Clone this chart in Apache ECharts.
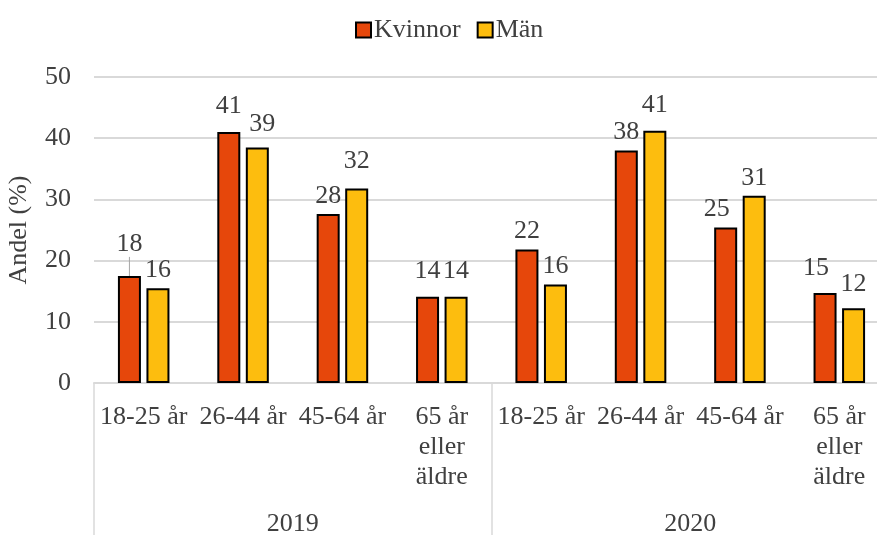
<!DOCTYPE html>
<html>
<head>
<meta charset="utf-8">
<script src="https://cdn.jsdelivr.net/npm/echarts@6/dist/echarts.min.js"></script>
<style>
  html, body { margin: 0; padding: 0; background: #fff; }
  #chart { width: 877px; height: 535px; }
</style>
</head>
<body>
<div id="chart"></div>
<script>
const ageGroups = ["18-25 år", "26-44 år", "45-64 år", "65 år eller äldre",
                   "18-25 år", "26-44 år", "45-64 år", "65 år eller äldre"];
const years = ["2019", "2020"];
const kvinnor = [17.5, 41.0, 27.6, 14.1, 21.8, 38.0, 25.4, 14.7];
const man = [15.5, 38.5, 31.8, 14.1, 16.1, 41.2, 30.6, 12.2];
const yTicks = [0, 10, 20, 30, 40, 50];

// label nudges, as in the original (manually moved labels)
const kvinnorLabelShift = [[0, -14], [0, -8], [0, 0], [0, -8], [0, 0], [0, 0], [-9, 0], [-9, -7]];
const manLabelShift = [[0, 0], [5, -5], [0, -9], [0, -8], [0, 0], [0, -8], [0, 0], [0, -6]];

const font = "Liberation Serif";
const textColor = "#404040";
const gridColor = "#d9d9d9";
const fs = 26;

const chart = echarts.init(document.getElementById("chart"));

const barLabel = {
  show: true,
  position: "top",
  distance: 5,
  fontFamily: font,
  fontSize: fs,
  color: textColor,
  formatter: (p) => Math.round(p.value)
};

function shiftLayout(shifts) {
  return (p) => ({ dx: shifts[p.dataIndex][0], dy: shifts[p.dataIndex][1] });
}

chart.setOption({
  backgroundColor: "#fff",
  animation: false,
  textStyle: { fontFamily: font },
  legend: {
    top: 12,
    left: 350,
    itemWidth: 15,
    itemHeight: 15,
    itemGap: 16,
    icon: "rect",
    textStyle: { fontFamily: font, fontSize: fs, color: textColor, padding: [0, 0, 0, -2] },
    data: ["Kvinnor", "Män"]
  },
  grid: {
    left: 94,
    top: 77,
    right: -12,
    bottom: 152,
    outerBoundsMode: "none",
    containLabel: false
  },
  xAxis: [
    {
      type: "category",
      data: ageGroups,
      axisLine: { show: true, lineStyle: { color: gridColor, width: 2 } },
      axisTick: { show: false },
      axisLabel: {
        interval: 0,
        margin: 19,
        fontFamily: font,
        fontSize: fs,
        lineHeight: 30,
        color: textColor,
        formatter: (v) => v.replace(" eller ", "\neller\n")
      }
    },
    {
      type: "category",
      data: years,
      position: "bottom",
      axisLine: { show: false },
      axisTick: { show: true, length: 160, lineStyle: { color: gridColor, width: 1.5 } },
      axisLabel: {
        margin: 128,
        fontFamily: font,
        fontSize: fs,
        color: textColor
      }
    }
  ],
  yAxis: {
    type: "value",
    min: yTicks[0],
    max: yTicks[yTicks.length - 1],
    interval: 10,
    name: "Andel (%)",
    nameLocation: "middle",
    nameGap: 62,
    nameTextStyle: { fontFamily: font, fontSize: fs, color: textColor },
    axisLine: { show: false },
    axisTick: { show: false },
    axisLabel: { margin: 23, fontFamily: font, fontSize: fs, color: textColor },
    splitLine: { lineStyle: { color: gridColor, width: 2 } }
  },
  series: [
    {
      name: "Kvinnor",
      type: "bar",
      barWidth: 23,
      barGap: "24%",
      itemStyle: { color: "#e6470b", borderColor: "#000", borderWidth: 2 },
      label: barLabel,
      labelLayout: shiftLayout(kvinnorLabelShift),
      labelLine: { show: false, lineStyle: { color: "#a6a6a6", width: 1 } },
      data: kvinnor.map((v, i) => i === 0 ? { value: v, labelLine: { show: true } } : v)
    },
    {
      name: "Män",
      type: "bar",
      barWidth: 23,
      barGap: "24%",
      itemStyle: { color: "#fdbd0e", borderColor: "#000", borderWidth: 2 },
      label: barLabel,
      labelLayout: shiftLayout(manLabelShift),
      data: man
    }
  ]
});
</script>
</body>
</html>
